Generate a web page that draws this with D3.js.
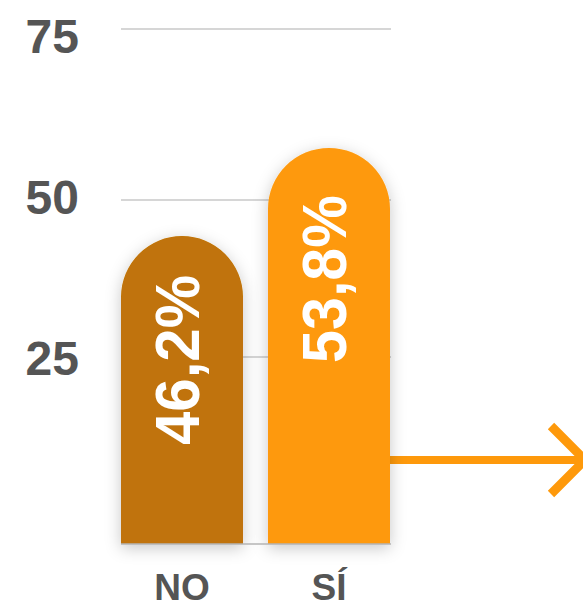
<!DOCTYPE html>
<html>
<head>
<meta charset="utf-8">
<script src="https://cdn.jsdelivr.net/npm/d3@7"></script>
<style>
  body { margin: 0; background: #fff; }
  svg { display: block; }
</style>
</head>
<body>
<div class="chart"></div>
<script>
// data
var categories = ["NO", "SÍ"];
var values = [46.2, 53.8];
var valueLabels = ["46,2%", "53,8%"];
var tickValues = [25, 50, 75];
var colors = ["#c07307", "#fe990b"];

var W = 583, H = 607;
var base = 544;

var svg = d3.select(".chart").append("svg")
  .attr("width", W)
  .attr("height", H);

// soft shadow under the bars
var defs = svg.append("defs");
var f = defs.append("filter").attr("id", "shadow")
  .attr("x", "-30%").attr("y", "-20%").attr("width", "160%").attr("height", "140%");
f.append("feDropShadow")
  .attr("dx", 0).attr("dy", 4)
  .attr("stdDeviation", 8)
  .attr("flood-color", "#000")
  .attr("flood-opacity", 0.22);

var x = d3.scaleBand()
  .domain(categories)
  .range([121, 390])
  .paddingInner(0.17)
  .paddingOuter(0);

// gridline positions, as drawn in the original (not evenly spaced)
var y = d3.scaleLinear()
  .domain([0, 25, 50, 75])
  .range([base, 357, 200, 29]);

// tick labels sit on their own even spacing (baselines)
var yLabel = d3.scaleLinear()
  .domain([25, 75])
  .range([375, 53]);

// bars use their own stretched scale, like the original picture
var yBar = d3.scaleLinear()
  .domain([40, 60])
  .range([308, 76]);

// gridlines
svg.selectAll("line.grid")
  .data(tickValues)
  .enter().append("line")
    .attr("class", "grid")
    .attr("x1", 121).attr("x2", 391)
    .attr("y1", function(d){ return y(d); })
    .attr("y2", function(d){ return y(d); })
    .attr("stroke", "#c8c8c8")
    .attr("stroke-width", 1.5);

// tick labels
svg.selectAll("text.tick")
  .data(tickValues)
  .enter().append("text")
    .attr("class", "tick")
    .attr("x", 79)
    .attr("y", function(d){ return yLabel(d); })
    .attr("text-anchor", "end")
    .attr("font-family", "Liberation Sans, Arial, sans-serif")
    .attr("font-weight", "bold")
    .attr("font-size", 48)
    .attr("fill", "#555")
    .text(function(d){ return d; });

// arrow on the right
var arrowY = 460;
svg.append("line")
  .attr("x1", 390).attr("x2", 580)
  .attr("y1", arrowY).attr("y2", arrowY)
  .attr("stroke", colors[1])
  .attr("stroke-width", 8);
svg.append("polyline")
  .attr("points", [[551, arrowY - 34], [585, arrowY], [551, arrowY + 34]].join(" "))
  .attr("fill", "none")
  .attr("stroke", colors[1])
  .attr("stroke-width", 9);

// bars with round tops
function barPath(d, i) {
  var x0 = x(categories[i]), w = x.bandwidth(), r = w / 2;
  var top = yBar(d);
  return "M" + x0 + "," + base +
    "V" + (top + r) +
    "A" + r + "," + r + " 0 0 1 " + (x0 + w) + "," + (top + r) +
    "V" + base + "Z";
}

svg.selectAll("path.bar")
  .data(values)
  .enter().append("path")
    .attr("class", "bar")
    .attr("d", barPath)
    .attr("fill", function(d, i){ return colors[i]; })
    .attr("filter", "url(#shadow)");

// baseline
svg.append("line")
  .attr("x1", 121).attr("x2", 391)
  .attr("y1", base).attr("y2", base)
  .attr("stroke", "#b5b5b5")
  .attr("stroke-width", 1.5);

// value labels, rotated inside bars
var labelLen = [170, 168];
var labelMid = [360, 279];
svg.selectAll("text.val")
  .data(values)
  .enter().append("text")
    .attr("class", "val")
    .attr("transform", function(d, i){
      var cx = x(categories[i]) + x.bandwidth() / 2 + 17;
      return "translate(" + cx + "," + labelMid[i] + ") rotate(-90)";
    })
    .attr("text-anchor", "middle")
    .attr("font-family", "Liberation Sans, Arial, sans-serif")
    .attr("font-weight", "bold")
    .attr("font-size", 63)
    .attr("fill", "#fff")
    .attr("textLength", function(d, i){ return labelLen[i]; })
    .attr("lengthAdjust", "spacingAndGlyphs")
    .text(function(d, i){ return valueLabels[i]; });

// category labels
svg.selectAll("text.cat")
  .data(categories)
  .enter().append("text")
    .attr("class", "cat")
    .attr("x", function(d){ return x(d) + x.bandwidth() / 2; })
    .attr("y", 600)
    .attr("text-anchor", "middle")
    .attr("font-family", "Liberation Sans, Arial, sans-serif")
    .attr("font-weight", "bold")
    .attr("font-size", 37)
    .attr("fill", "#555")
    .text(function(d){ return d; });
</script>
</body>
</html>
